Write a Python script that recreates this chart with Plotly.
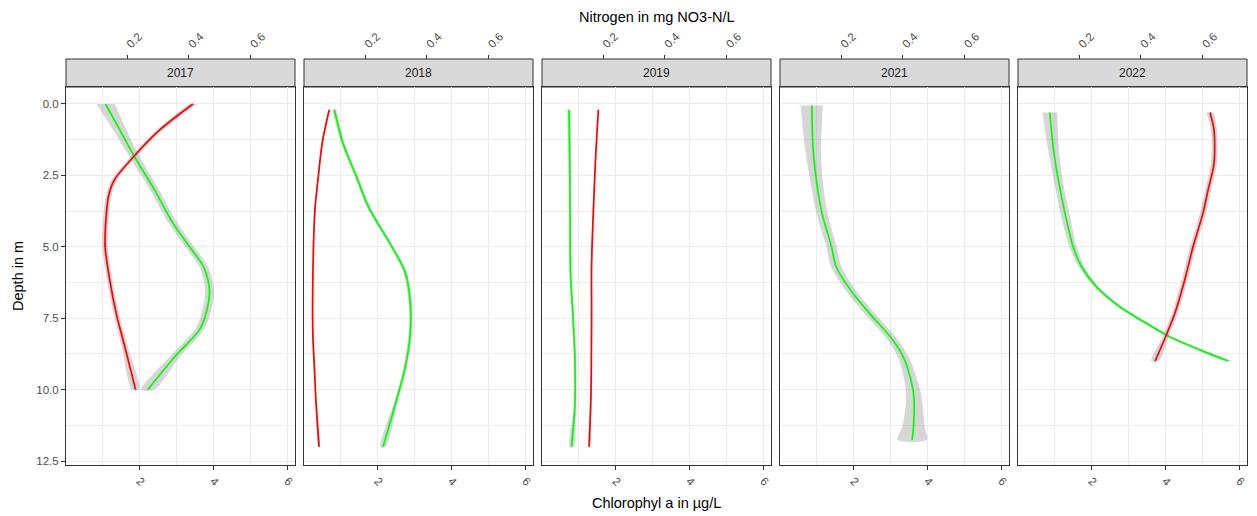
import plotly.graph_objects as go

years = ["2017", "2018", "2019", "2021", "2022"]
N_FACTOR = 0.12  # nitrogen (top axis) = chlorophyll-scale value * 0.12

# ---- 2017 ----
depth_chl_2017 = [0.0, 0.9, 1.84, 3.0, 4.17, 5.0, 5.7, 6.5, 7.3, 7.9, 8.85, 10.0]
chl_2017 = [1.08, 1.46, 1.86, 2.4, 2.9, 3.35, 3.73, 3.89, 3.8, 3.62, 2.95, 2.22]
se_chl_2017 = [0.25, 0.18, 0.14, 0.12, 0.12, 0.12, 0.12, 0.12, 0.12, 0.12, 0.14, 0.18]
depth_n_2017 = [0.0, 0.91, 1.84, 2.66, 3.24, 4.17, 5.0, 6.16, 7.33, 8.5, 10.0]
n_2017 = [0.413, 0.305, 0.221, 0.158, 0.139, 0.130, 0.128, 0.143, 0.164, 0.192, 0.227]
se_n_2017 = [0.014, 0.01, 0.009, 0.009, 0.009, 0.009, 0.009, 0.009, 0.009, 0.01, 0.012]

# ---- 2018 ----
depth_chl_2018 = [0.2, 1.32, 2.49, 3.65, 4.94, 5.87, 6.92, 8.09, 9.25, 10.42, 12.0]
chl_2018 = [0.83, 1.05, 1.41, 1.77, 2.36, 2.74, 2.88, 2.88, 2.74, 2.5, 2.15]
se_chl_2018 = [0.06, 0.05, 0.05, 0.05, 0.05, 0.05, 0.05, 0.05, 0.05, 0.05, 0.07]
depth_n_2018 = [0.2, 1.32, 2.49, 3.65, 4.94, 6.92, 8.09, 9.25, 10.42, 12.0]
n_2018 = [0.083, 0.061, 0.048, 0.037, 0.032, 0.029, 0.030, 0.035, 0.040, 0.050]
se_n_2018 = [0.002, 0.002, 0.002, 0.002, 0.002, 0.002, 0.002, 0.002, 0.002, 0.002]

# ---- 2019 ----
depth_chl_2019 = [0.2, 2.0, 4.0, 5.87, 7.5, 8.9, 10.5, 12.0]
chl_2019 = [0.74, 0.76, 0.77, 0.78, 0.85, 0.9, 0.9, 0.81]
se_chl_2019 = [0.05, 0.03, 0.03, 0.03, 0.03, 0.03, 0.03, 0.05]
depth_n_2019 = [0.2, 1.67, 3.42, 5.64, 7.5, 10.2, 12.0]
n_2019 = [0.184, 0.176, 0.169, 0.162, 0.162, 0.160, 0.154]
se_n_2019 = [0.002, 0.002, 0.002, 0.002, 0.002, 0.002, 0.002]

# ---- 2021 (no nitrogen) ----
depth_chl_2021 = [0.05, 1.5, 2.63, 3.8, 4.99, 5.7, 6.63, 7.33, 8.26, 8.96, 10.13, 11.3, 11.76]
chl_2021 = [0.87, 0.9, 0.99, 1.14, 1.4, 1.53, 1.98, 2.43, 3.06, 3.38, 3.62, 3.62, 3.58]
se_chl_2021 = [0.3, 0.22, 0.17, 0.15, 0.14, 0.14, 0.14, 0.14, 0.14, 0.15, 0.2, 0.3, 0.4]

# ---- 2022 ----
depth_chl_2022 = [0.3, 1.5, 2.66, 3.83, 5.0, 5.7, 6.4, 7.1, 7.68, 8.15, 8.61, 9.0]
chl_2022 = [0.87, 0.96, 1.1, 1.28, 1.5, 1.73, 2.13, 2.76, 3.48, 4.11, 4.93, 5.69]
se_chl_2022 = [0.2, 0.15, 0.12, 0.12, 0.1, 0.08, 0.07, 0.07, 0.07, 0.07, 0.08, 0.1]
depth_n_2022 = [0.3, 0.91, 2.08, 3.0, 3.83, 5.0, 6.16, 7.33, 8.15, 9.0]
n_2022 = [0.624, 0.637, 0.637, 0.618, 0.601, 0.569, 0.542, 0.51, 0.48, 0.446]
se_n_2022 = [0.012, 0.01, 0.01, 0.01, 0.01, 0.01, 0.01, 0.01, 0.01, 0.012]

chl_series = [
    (depth_chl_2017, chl_2017, se_chl_2017),
    (depth_chl_2018, chl_2018, se_chl_2018),
    (depth_chl_2019, chl_2019, se_chl_2019),
    (depth_chl_2021, chl_2021, se_chl_2021),
    (depth_chl_2022, chl_2022, se_chl_2022),
]
n_series = [
    (depth_n_2017, n_2017, se_n_2017),
    (depth_n_2018, n_2018, se_n_2018),
    (depth_n_2019, n_2019, se_n_2019),
    None,
    (depth_n_2022, n_2022, se_n_2022),
]

chl_ticks = [2, 4, 6]
n_ticks = [0.2, 0.4, 0.6]
depth_ticks = [0, 2.5, 5, 7.5, 10, 12.5]

FONT = "Liberation Sans, Arial, sans-serif"
RIBBON = "rgba(153,153,153,0.4)"
GREEN = "#00FF00"
RED = "#FF0000"
GRID = "#EBEBEB"
DARK = "#333333"
TICKC = "#4D4D4D"

# page body has an 8px default margin: figure is sized/offset to compensate
OFF = 8
W, H = 1257 - OFF, 516 - OFF
ML, MR, MT, MB = 66 - OFF, 10, 59 - OFF, 51
PW = W - ML - MR
PH = H - MT - MB
STRIP = 28
panel_top = 1 - STRIP / PH
STEP = 238
PWID = PW - 4 * STEP
XR = [0.01, 6.2]
YR = [12.64, -0.595]

fig = go.Figure()


def ribbon(depth, val, se, xa, ya):
    lo = [v - s for v, s in zip(val, se)]
    hi = [v + s for v, s in zip(val, se)]
    return go.Scatter(
        x=lo + hi[::-1], y=depth + depth[::-1], xaxis=xa, yaxis=ya,
        fill="toself", fillcolor=RIBBON, line=dict(width=0, shape="spline", smoothing=0.8),
        mode="lines", hoverinfo="skip", showlegend=False)


for i, yr in enumerate(years):
    k = i + 1
    xa = f"x{k}" if k > 1 else "x"
    ya = f"y{k}" if k > 1 else "y"
    xa2 = f"x{k + 5}"
    d, v, s = chl_series[i]
    fig.add_trace(ribbon(d, v, s, xa, ya))
    fig.add_trace(go.Scatter(x=v, y=d, xaxis=xa, yaxis=ya, mode="lines",
                             line=dict(color=GREEN, width=1.7, shape="spline", smoothing=0.8),
                             showlegend=False, name=f"Chl {yr}"))
    if n_series[i] is not None:
        d, v, s = n_series[i]
        fig.add_trace(ribbon(d, v, s, xa2, ya))
        fig.add_trace(go.Scatter(x=v, y=d, xaxis=xa2, yaxis=ya, mode="lines",
                                 line=dict(color=RED, width=1.7, shape="spline", smoothing=0.8),
                                 showlegend=False, name=f"N {yr}"))
    else:
        fig.add_trace(go.Scatter(x=[None], y=[None], xaxis=xa2, yaxis=ya,
                                 mode="lines", showlegend=False, hoverinfo="skip"))

    x0 = STEP * i / PW
    x1 = min(1.0, (STEP * i + PWID) / PW)
    suffix = str(k) if k > 1 else ""
    fig.layout[f"xaxis{suffix}"] = dict(
        domain=[x0, x1], anchor=ya, range=XR, automargin=False,
        tickvals=chl_ticks, ticktext=[str(t) for t in chl_ticks], tickangle=45,
        tickfont=dict(family=FONT, size=11.5, color=TICKC),
        ticks="outside", ticklen=4, tickcolor=DARK, tickwidth=1,
        showgrid=True, gridcolor=GRID, gridwidth=1,
        minor=dict(tickvals=[1, 3, 5], showgrid=True, gridcolor=GRID, gridwidth=0.6, ticks=""),
        showline=True, mirror=True, linecolor=DARK, linewidth=1,
        zeroline=False, fixedrange=True)
    fig.layout[f"xaxis{k + 5}"] = dict(
        overlaying=xa, side="top", anchor="free", position=1.0, automargin=False,
        range=[XR[0] * N_FACTOR, XR[1] * N_FACTOR],
        tickvals=n_ticks, ticktext=[f"{t:.1f}" for t in n_ticks], tickangle=-45,
        tickfont=dict(family=FONT, size=11.5, color=TICKC),
        ticks="outside", ticklen=4, tickcolor=DARK, tickwidth=1,
        showgrid=False, showline=False, zeroline=False, fixedrange=True)
    fig.layout[f"yaxis{suffix}"] = dict(
        domain=[0, panel_top], anchor=xa, range=YR, automargin=False,
        tickvals=depth_ticks, ticktext=[f"{t:.1f}" for t in depth_ticks],
        showticklabels=(i == 0), ticks="outside" if i == 0 else "",
        ticklen=4, tickcolor=DARK, tickwidth=1,
        tickfont=dict(family=FONT, size=11.5, color=TICKC),
        showgrid=True, gridcolor=GRID, gridwidth=1,
        minor=dict(tickvals=[1.25, 3.75, 6.25, 8.75, 11.25], showgrid=True,
                   gridcolor=GRID, gridwidth=0.6, ticks=""),
        showline=True, mirror=True, linecolor=DARK, linewidth=1,
        zeroline=False, fixedrange=True)

    fig.add_shape(type="rect", xref="paper", yref="paper", x0=x0, x1=x1,
                  y0=panel_top, y1=1.0, fillcolor="#D9D9D9",
                  line=dict(color=DARK, width=1), layer="below")
    fig.add_annotation(text=yr, xref="paper", yref="paper", x=(x0 + x1) / 2,
                       y=(panel_top + 1) / 2, xanchor="center", yanchor="middle",
                       showarrow=False, font=dict(family=FONT, size=12, color="#1A1A1A"))

fig.add_annotation(text="Nitrogen in mg NO3-N/L", xref="paper", yref="paper",
                   x=0.5, y=1 + (59 - 17) / PH, xanchor="center", yanchor="middle",
                   showarrow=False, font=dict(family=FONT, size=14.5, color="black"))
fig.add_annotation(text="Chlorophyl a in µg/L", xref="paper", yref="paper",
                   x=0.5, y=-(503 - 465) / PH, xanchor="center", yanchor="middle",
                   showarrow=False, font=dict(family=FONT, size=14.5, color="black"))
fig.add_annotation(text="Depth in m", xref="paper", yref="paper",
                   x=(18 - 66) / PW, y=panel_top / 2, xanchor="center", yanchor="middle",
                   textangle=-90, showarrow=False,
                   font=dict(family=FONT, size=14.5, color="black"))

fig.update_layout(width=W, height=H, margin=dict(l=ML, r=MR, t=MT, b=MB, autoexpand=False),
                  paper_bgcolor="white", plot_bgcolor="white", showlegend=False)

fig.write_html("out.html")
